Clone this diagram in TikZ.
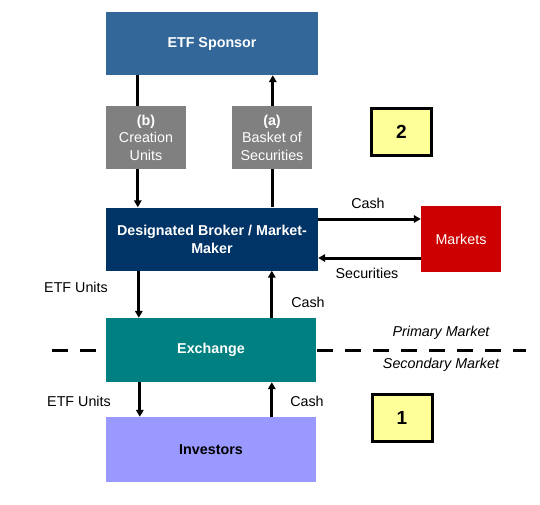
\documentclass[tikz,border=0pt]{standalone}
\usepackage{fontspec}
\setmainfont{Liberation Sans}
\usetikzlibrary{positioning,arrows.meta}
\definecolor{sponsorblue}{HTML}{336699}
\definecolor{brokerblue}{HTML}{003366}
\definecolor{tagrey}{HTML}{808080}
\definecolor{marketred}{HTML}{CC0000}
\definecolor{exchteal}{HTML}{008080}
\definecolor{investlilac}{HTML}{9999FF}
\definecolor{noteyellow}{HTML}{FFFF99}

\begin{document}
\begin{tikzpicture}[
  x=1pt, y=-1pt,
  >={Triangle[length=7pt,width=7.5pt]},
  every node/.style={font=\fontsize{14.3}{17.5}\selectfont},
  box/.style={minimum width=212pt,minimum height=63pt,inner sep=2pt,align=center,text=white,font=\fontsize{14.3}{18}\selectfont\bfseries},
  tag/.style={fill=tagrey,minimum width=80pt,minimum height=63pt,inner sep=1pt,align=center,text=white},
  note/.style={draw,line width=3pt,fill=noteyellow,minimum width=60pt,minimum height=47pt,font=\fontsize{19}{20}\selectfont\bfseries},
  lbl/.style={inner sep=0pt},
  arrow/.style={->,line width=3pt},
  link/.style={line width=3pt},
  divider/.style={line width=3pt,dash pattern=on 16pt off 12pt}
]
\useasboundingbox (0,0) rectangle (540,504);

\node[box,fill=sponsorblue] (sponsor) at (212,43.5) {ETF Sponsor};
\node[tag] (units) at (146,137.5) {\textbf{(b)}\\Creation\\Units};
\node[tag] (basket) at (272,137.5) {\textbf{(a)}\\Basket of\\Securities};
\node[box,fill=brokerblue] (broker) at (212,239) {Designated Broker / Market-\\Maker};
\node[tag,fill=marketred,minimum height=66pt] (markets) at (461,239) {Markets};
\node[box,fill=exchteal,minimum width=210pt,minimum height=64pt] (exchange) at (211,350) {Exchange};
\node[box,fill=investlilac,text=black,minimum width=210pt,minimum height=65pt] (investors) at (211,449.5) {Investors};

\node[note] (two) at (401.5,132) {2};
\node[note] (one) at (402,418) {1};

% creation / redemption with the sponsor
\draw[link] ([xshift=32pt]sponsor.south west) -- ([xshift=32pt]units.north west);
\draw[arrow] ([xshift=32pt]units.south west) -- ([xshift=32pt]broker.north west);
\draw[link] ([xshift=167pt]broker.north west) -- ([xshift=41pt]basket.south west);
\draw[arrow] ([xshift=41pt]basket.north west) -- ([xshift=167pt]sponsor.south west);

% broker and markets
\draw[arrow] ([yshift=20pt]broker.east) -- ([yshift=20pt]markets.west);
\draw[arrow] ([yshift=-19pt]markets.west) -- ([yshift=-19pt]broker.east);
\node[lbl] (cashm) at (368,203) {Cash};
\node[lbl] (secm) at (367,273) {Securities};

% broker and exchange
\draw[arrow] ([xshift=33pt]broker.south west) -- ([xshift=33pt]exchange.north west);
\draw[arrow] ([xshift=166pt]exchange.north west) -- ([xshift=166pt]broker.south west);
\node[lbl] (unitsup) at (76,287) {ETF Units};
\node[lbl] (cashup) at (308,302) {Cash};

% exchange and investors
\draw[arrow] ([xshift=34pt]exchange.south west) -- ([xshift=34pt]investors.north west);
\draw[arrow] ([xshift=166pt]investors.north west) -- ([xshift=166pt]exchange.south west);
\node[lbl] (unitsdown) at (79,401) {ETF Units};
\node[lbl] (cashdown) at (307,401) {Cash};

% market split
\coordinate (dashL) at (52,350);
\coordinate (dashR) at (526,350);
\draw[divider] (dashL) -- ([xshift=-5pt]exchange.west);
\draw[divider] ([xshift=1pt]exchange.east) -- (dashR);
\node[lbl,font=\fontsize{14.3}{17}\selectfont\itshape] (primary) at (441,333) {Primary Market};
\node[lbl,font=\fontsize{14.3}{17}\selectfont\itshape] (secondary) at (441,365) {Secondary Market};
\end{tikzpicture}
\end{document}
